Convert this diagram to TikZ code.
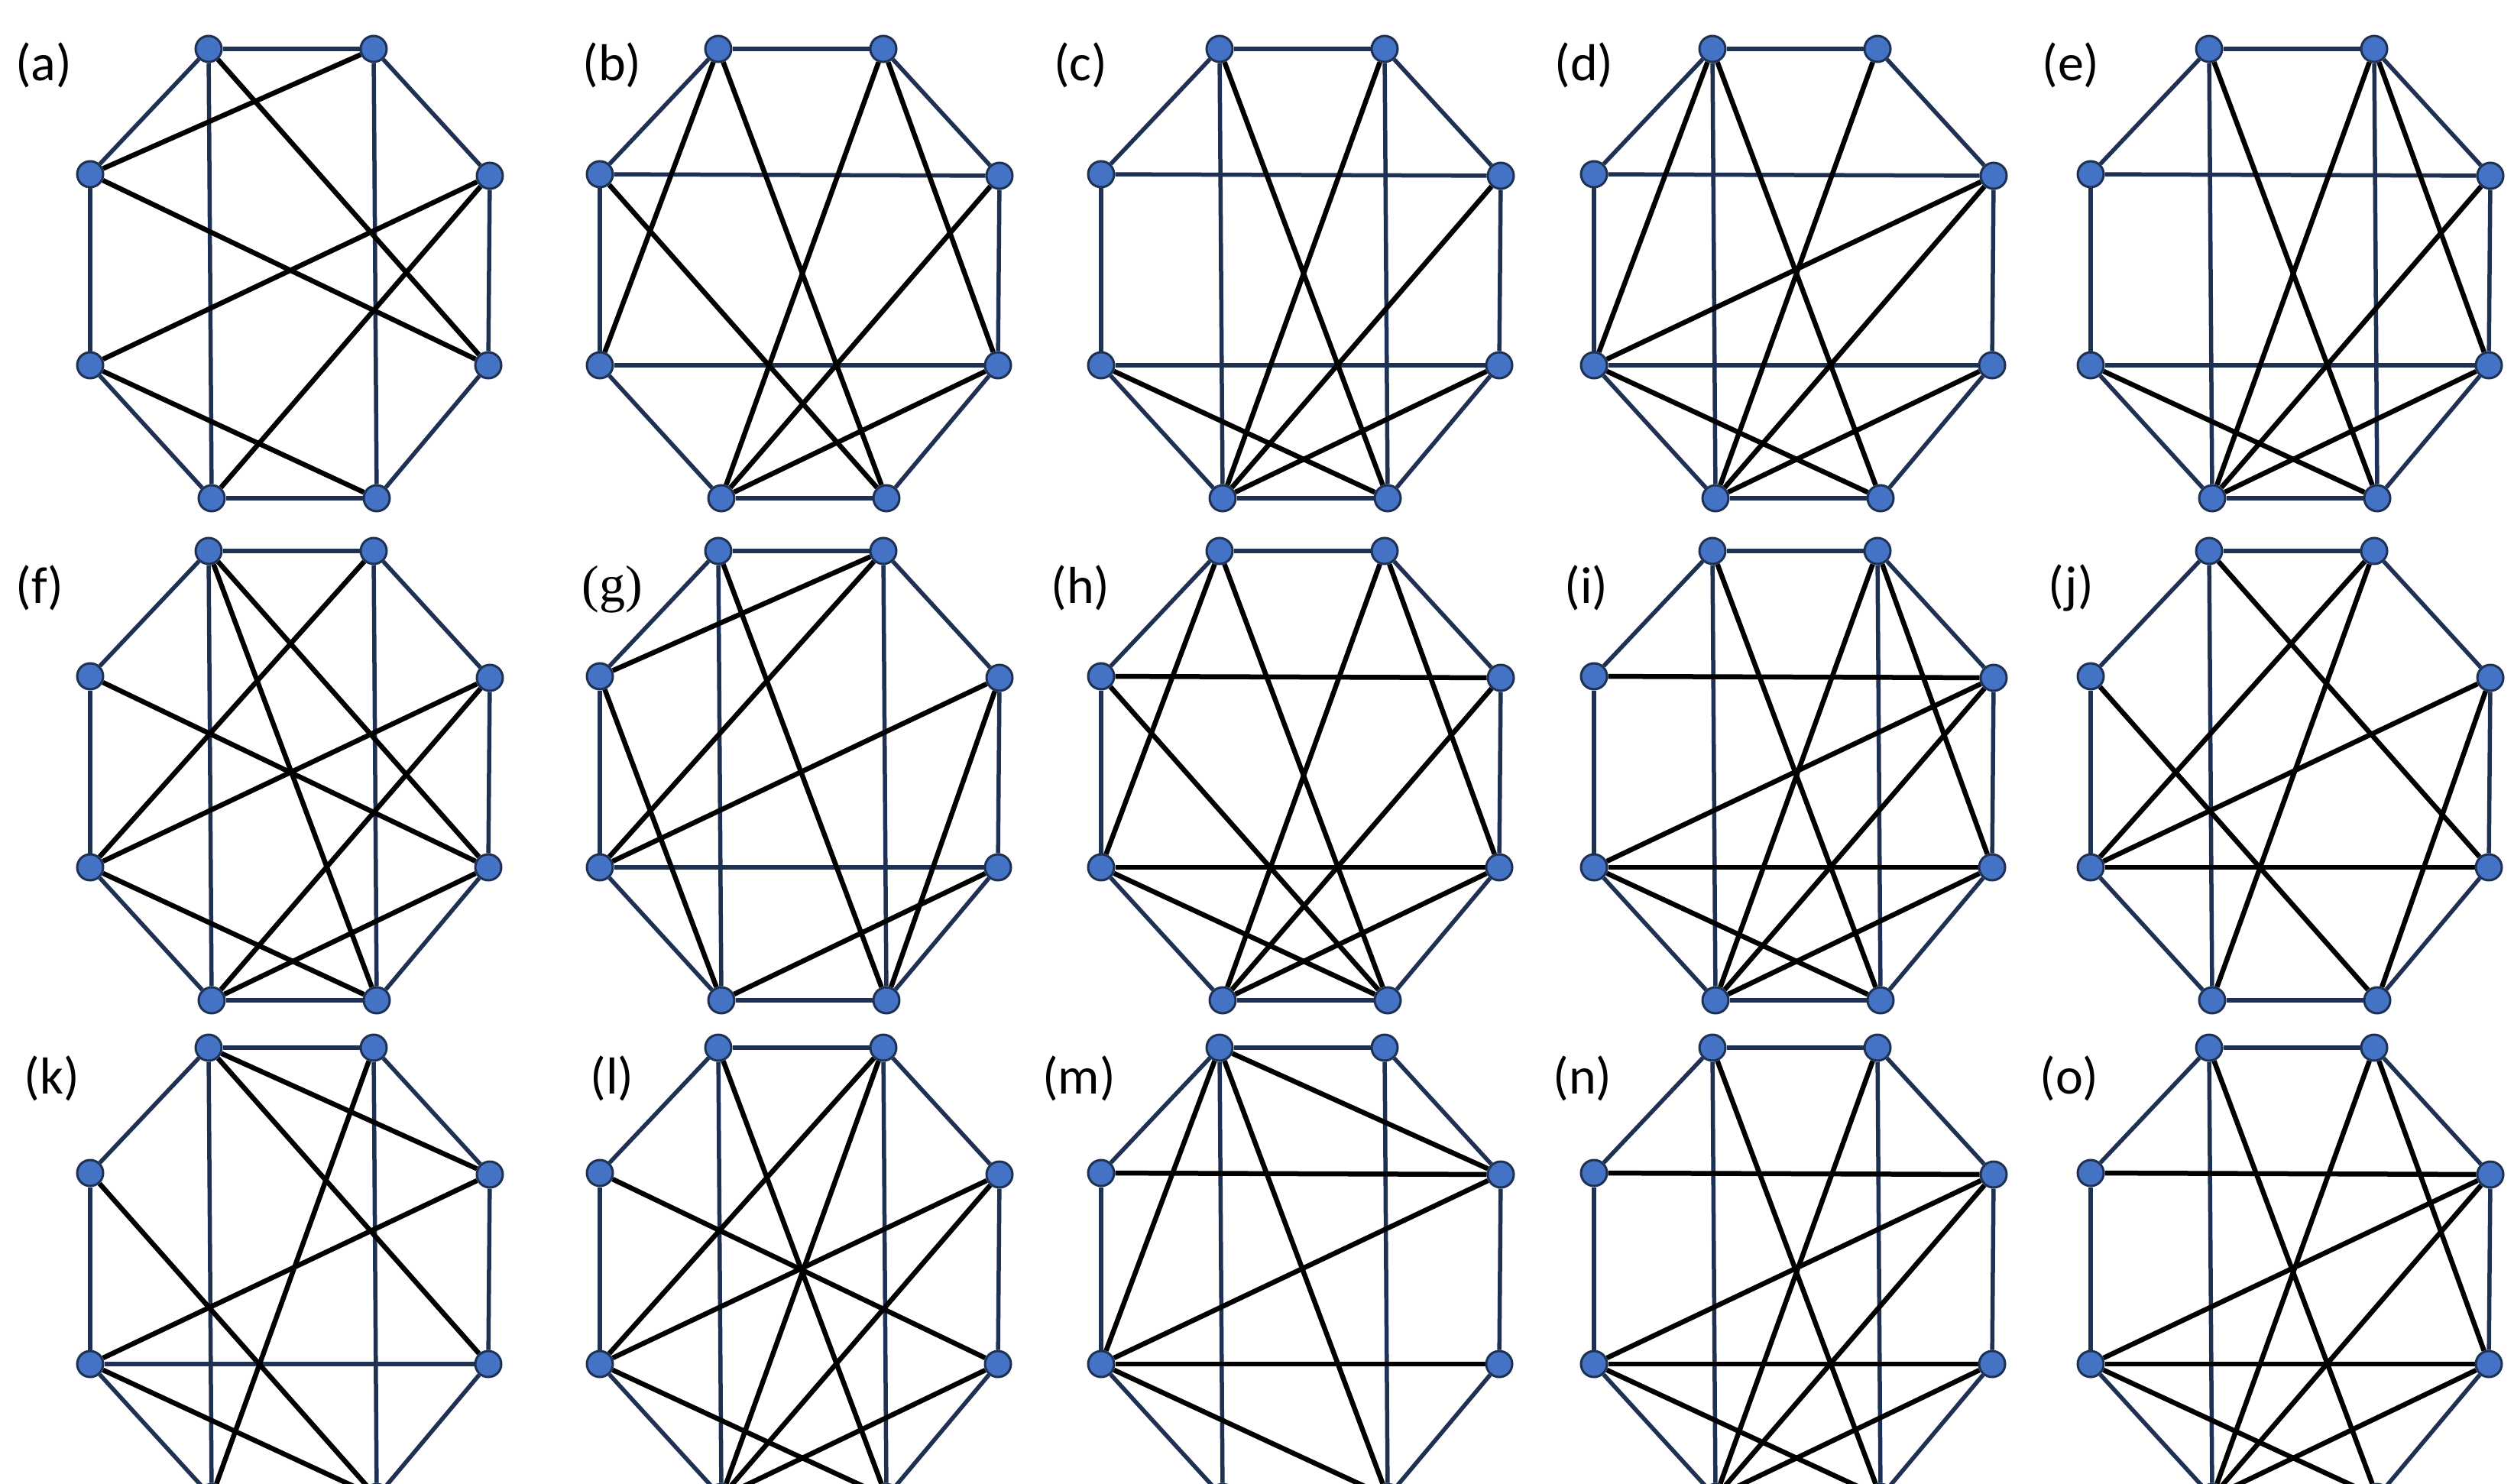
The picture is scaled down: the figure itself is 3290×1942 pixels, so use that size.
\documentclass[tikz,border=0pt]{standalone}
\usepackage{fontspec}
\setmainfont{Carlito}
\newfontfamily\gfont{Liberation Serif}
\usetikzlibrary{backgrounds}
\definecolor{navy}{HTML}{1F3153}
\definecolor{vblue}{HTML}{4472C4}
\tikzset{
  vtx/.style={circle,fill=vblue,draw=navy,line width=3pt,minimum size=34pt,inner sep=0pt},
  nv/.style={draw=navy,line width=5.5pt},
  ch/.style={draw=black,line width=6.5pt},
  lbl/.style={font=\fontsize{68}{74}\selectfont,inner sep=0pt}
}
% #1 id, #2 x, #3 y, #4 label x, #5 label y, #6 label, #7 chords
\newcommand\octpanel[7]{%
  \node[lbl] (#1lab) at (#4,#5) {#6};
  \foreach \i/\dx/\dy in {0/0/0,1/216/0,2/368/166,3/366/414,4/220/588,5/4/588,6/-155/414,7/-155/164}
    \node[vtx] (#1v\i) at (#2+\dx,#3+\dy) {};
  \begin{pgfonlayer}{background}
    \foreach \a/\b in {0/1,1/2,2/3,3/4,4/5,5/6,6/7,7/0}
      \draw[nv] (#1v\a) -- (#1v\b);
    \foreach \a/\b/\s in {#7}
      \draw[\s] (#1v\a) -- (#1v\b);
  \end{pgfonlayer}
}
\begin{document}
\begin{tikzpicture}[x=1pt,y=-1pt]
\useasboundingbox (0,0) rectangle (3290,1942);
\octpanel{a}{273}{64}{57}{85}{(a)}{0/5/nv,1/4/nv,0/3/ch,1/7/ch,3/7/ch,2/6/ch,4/6/ch,2/5/ch}
\octpanel{b}{940}{64}{801}{85}{(b)}{2/7/nv,3/6/nv,0/6/ch,0/4/ch,1/5/ch,1/3/ch,4/7/ch,2/5/ch,3/5/ch}
\octpanel{c}{1596}{64}{1414}{85}{(c)}{0/5/nv,1/4/nv,2/7/nv,3/6/nv,0/4/ch,1/5/ch,2/5/ch,4/6/ch,3/5/ch}
\octpanel{d}{2241}{64}{2073}{85}{(d)}{0/5/nv,2/7/nv,3/6/nv,0/6/ch,0/4/ch,1/5/ch,2/6/ch,2/5/ch,4/6/ch,3/5/ch}
\octpanel{e}{2891}{64}{2710}{85}{(e)}{0/5/nv,1/4/nv,2/7/nv,3/6/nv,0/4/ch,1/5/ch,1/3/ch,2/5/ch,4/6/ch,3/5/ch}
\octpanel{f}{273}{721}{52}{769}{(f)}{0/5/nv,1/4/nv,0/4/ch,0/3/ch,1/6/ch,3/7/ch,2/6/ch,4/6/ch,2/5/ch,3/5/ch}
\octpanel{g}{940}{721}{801}{771}{{\gfont (g)}}{0/5/nv,1/4/nv,3/6/nv,1/7/ch,1/6/ch,0/4/ch,5/7/ch,2/6/ch,2/4/ch,3/5/ch}
\octpanel{h}{1596}{721}{1414}{769}{(h)}{2/7/ch,3/6/ch,0/6/ch,0/4/ch,1/5/ch,1/3/ch,4/7/ch,2/5/ch,4/6/ch,3/5/ch}
\octpanel{i}{2241}{721}{2076}{769}{(i)}{0/5/nv,1/4/nv,2/7/ch,3/6/ch,0/4/ch,1/5/ch,1/3/ch,2/6/ch,2/5/ch,4/6/ch,3/5/ch}
\octpanel{j}{2891}{721}{2710}{769}{(j)}{0/5/nv,3/6/ch,0/3/ch,1/6/ch,1/5/ch,4/7/ch,2/6/ch,2/4/ch}
\octpanel{k}{273}{1371}{68}{1411}{(k)}{0/5/nv,1/4/nv,3/6/nv,0/2/ch,0/3/ch,1/5/ch,4/7/ch,2/6/ch,4/6/ch}
\octpanel{l}{940}{1371}{801}{1411}{(l)}{0/5/nv,1/4/nv,0/4/ch,1/5/ch,3/7/ch,2/6/ch,1/6/ch,4/6/ch,2/5/ch,3/5/ch}
\octpanel{m}{1596}{1371}{1412}{1411}{(m)}{0/5/nv,1/4/nv,2/7/ch,3/6/ch,0/6/ch,0/4/ch,0/2/ch,2/6/ch,4/6/ch}
\octpanel{n}{2241}{1371}{2071}{1411}{(n)}{0/5/nv,1/4/nv,2/7/ch,3/6/ch,0/4/ch,1/5/ch,2/6/ch,2/5/ch,4/6/ch,3/5/ch}
\octpanel{o}{2891}{1371}{2708}{1411}{(o)}{0/5/nv,2/7/ch,3/6/ch,0/4/ch,1/5/ch,1/3/ch,2/6/ch,2/5/ch,4/6/ch,3/5/ch}
\end{tikzpicture}
\end{document}
